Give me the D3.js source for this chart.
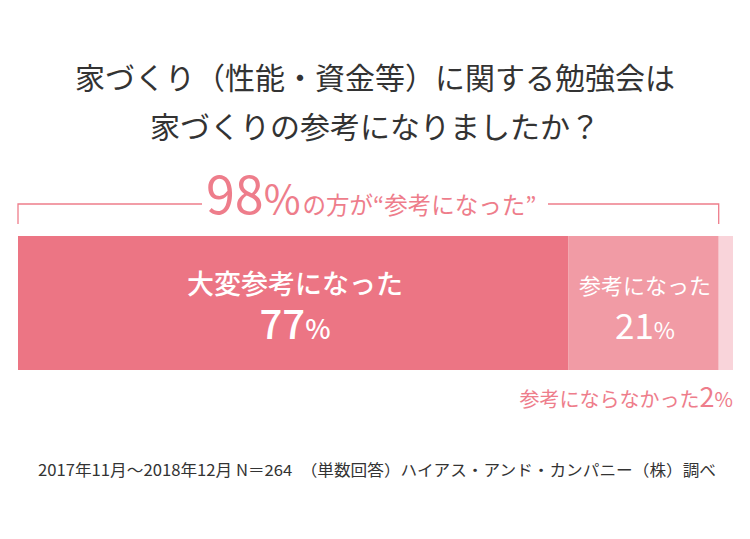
<!DOCTYPE html>
<html>
<head>
<meta charset="utf-8">
<script src="https://cdn.jsdelivr.net/npm/d3@7"></script>
<style>
  html, body { margin: 0; padding: 0; background: #fff; }
  svg { display: block; font-family: "Noto Sans CJK JP", "Noto Sans", sans-serif; }
</style>
</head>
<body>
<div id="chart"></div>
<script>
// ---- data ----
var titleLines = ["家づくり（性能・資金等）に関する勉強会は", "家づくりの参考になりましたか？"];
var categories = ["大変参考になった", "参考になった", "参考にならなかった"];
var values = [77, 21, 2];
var colors = ["#ec7584", "#f19ba5", "#f9d4da"];
var totalLabel = { num: "98", rest: "の方が“参考になった”" };
var footnote = "2017年11月〜2018年12月 N＝264　（単数回答）ハイアス・アンド・カンパニー（株）調べ";

var width = 750, height = 539;
var pink = "#ee7d8b";

var svg = d3.select("#chart").append("svg")
  .attr("width", width)
  .attr("height", height);

// タイトル
svg.selectAll("text.title")
  .data(titleLines).enter()
  .append("text")
  .attr("class", "title")
  .attr("x", width / 2)
  .attr("y", function(d, i) { return 89 + i * 49; })
  .attr("text-anchor", "middle")
  .attr("font-size", 30)
  .attr("fill", "#333")
  .text(function(d) { return d; });

// 横棒（積み上げ）
var x = d3.scaleLinear().domain([0, 100]).range([18, 733]);
var barTop = 236, barH = 134;

var stack = [];
var acc = 0;
values.forEach(function(v, i) {
  stack.push({ name: categories[i], value: v, x0: acc, x1: acc + v, color: colors[i] });
  acc += v;
});

svg.selectAll("rect.seg")
  .data(stack).enter()
  .append("rect")
  .attr("class", "seg")
  .attr("x", function(d) { return x(d.x0); })
  .attr("y", barTop)
  .attr("width", function(d) { return x(d.x1) - x(d.x0); })
  .attr("height", barH)
  .attr("fill", function(d) { return d.color; });

// バー内ラベル
var inner = [
  { seg: stack[0], cx: 295, nameSize: 27, numSize: 40, pctSize: 27, weight: 500 },
  { seg: stack[1], cx: 645, nameSize: 22, numSize: 35, pctSize: 23, weight: 400 }
];
inner.forEach(function(o) {
  svg.append("text")
    .attr("x", o.cx).attr("y", 294)
    .attr("text-anchor", "middle")
    .attr("font-size", o.nameSize)
    .attr("font-weight", o.weight)
    .attr("fill", "#fff")
    .text(o.seg.name);
  var t = svg.append("text")
    .attr("x", o.cx).attr("y", 339)
    .attr("text-anchor", "middle")
    .attr("fill", "#fff")
    .attr("font-weight", o.weight);
  t.append("tspan").attr("font-size", o.numSize).text(o.seg.value);
  t.append("tspan").attr("font-size", o.pctSize).text("%");
});

// バー外ラベル（2%）
var last = stack[2];
var lt = svg.append("text")
  .attr("x", x(last.x1)).attr("y", 407)
  .attr("text-anchor", "end")
  .attr("fill", pink);
lt.append("tspan").attr("font-size", 20).text(last.name);
lt.append("tspan").attr("font-size", 27).text(last.value);
lt.append("tspan").attr("font-size", 20).text("%");

// 98%ブラケット
var bx0 = x(0), bx1 = x(values[0] + values[1]);
var by = 204, byEnd = 224;
svg.append("path")
  .attr("d", "M" + bx0 + "," + byEnd + "V" + by + "H202")
  .attr("fill", "none").attr("stroke", pink).attr("stroke-width", 1.3);
svg.append("path")
  .attr("d", "M548," + by + "H" + bx1 + "V" + byEnd)
  .attr("fill", "none").attr("stroke", pink).attr("stroke-width", 1.3);

var bt = svg.append("text")
  .attr("x", 206).attr("y", 214)
  .attr("fill", pink);
bt.append("tspan").attr("font-size", 52).text(totalLabel.num);
bt.append("tspan").attr("font-size", 40).text("%");
bt.append("tspan").attr("font-size", 23.5).attr("dx", 2).text(totalLabel.rest);

// 注記
svg.append("text")
  .attr("x", 38).attr("y", 476)
  .attr("font-size", 15.5)
  .attr("fill", "#333")
  .attr("textLength", 678)
  .attr("lengthAdjust", "spacingAndGlyphs")
  .text(footnote);
</script>
</body>
</html>
